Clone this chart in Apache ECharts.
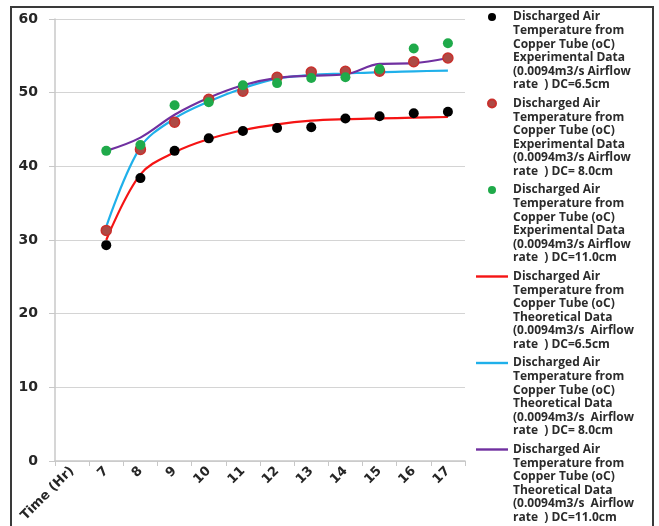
<!DOCTYPE html>
<html>
<head>
<meta charset="utf-8">
<script src="https://cdn.jsdelivr.net/npm/echarts@6/dist/echarts.min.js"></script>
<style>
  html, body { margin: 0; padding: 0; background: #fff; }
  #main { width: 659px; height: 526px; }
</style>
</head>
<body>
<div id="main"></div>
<script>
// x categories (first slot is the axis caption, no data there)
const hours = ['Time (Hr)', '7', '8', '9', '10', '11', '12', '13', '14', '15', '16', '17'];
const yTicks = [0, 10, 20, 30, 40, 50, 60];

// experimental points
const expDC65 = [null, 29.3, 38.4, 42.1, 43.8, 44.8, 45.2, 45.3, 46.5, 46.8, 47.2, 47.4];
const expDC80 = [null, 31.3, 42.3, 46.0, 49.1, 50.2, 52.1, 52.8, 52.9, 52.9, 54.2, 54.7];
const expDC110 = [null, 42.1, 42.9, 48.3, 48.7, 51.0, 51.3, 52.0, 52.1, 53.2, 56.0, 56.7];

// theoretical curves
const thDC65 = [null, 30.0, 38.9, 41.9, 43.7, 44.9, 45.7, 46.2, 46.4, 46.5, 46.6, 46.7];
const thDC80 = [null, 31.8, 42.6, 46.5, 48.8, 50.6, 51.9, 52.4, 52.6, 52.8, 52.9, 53.0];
const thDC110 = [null, 42.1, 43.9, 47.0, 49.3, 51.0, 52.0, 52.3, 52.5, 53.9, 54.0, 54.7];

const namePre = 'Discharged Air\nTemperature from\nCopper Tube (oC)\n';
const names = [
  namePre + 'Experimental Data\n(0.0094m3/s Airflow\nrate  ) DC=6.5cm',
  namePre + 'Experimental Data\n(0.0094m3/s Airflow\nrate  ) DC= 8.0cm',
  namePre + 'Experimental Data\n(0.0094m3/s Airflow\nrate  ) DC=11.0cm',
  namePre + 'Theoretical Data\n(0.0094m3/s  Airflow\nrate  ) DC=6.5cm',
  namePre + 'Theoretical Data\n(0.0094m3/s  Airflow\nrate  ) DC= 8.0cm',
  namePre + 'Theoretical Data\n(0.0094m3/s  Airflow\nrate  ) DC=11.0cm'
];

const chart = echarts.init(document.getElementById('main'));

function dots(name, data, color, border) {
  return {
    name: name,
    type: 'scatter',
    data: data,
    symbolSize: 10,
    z: 4,
    itemStyle: { color: color, borderColor: border || color, borderWidth: border ? 1.5 : 0, opacity: 1 }
  };
}

function curve(name, data, color) {
  return {
    name: name,
    type: 'line',
    data: data,
    smooth: 0.35,
    symbol: 'none',
    z: 3,
    itemStyle: { color: color },
    lineStyle: { color: color, width: 2.2 }
  };
}

// legend text: 6 lines, pushed down so the first line sits beside the icon
const lh = 13.6;
const lineIcon = 'path://M0 0H32V2.4H0Z';

chart.setOption({
  animation: false,
  backgroundColor: '#fff',
  graphic: [{
    type: 'rect',
    shape: { x: 11, y: 7, width: 642, height: 540 },
    style: { fill: 'none', stroke: '#3a3a3a', lineWidth: 2 },
    silent: true
  }],
  grid: { left: 55, right: 194, top: 19, bottom: 65 },
  legend: {
    orient: 'vertical',
    left: 476,
    top: 17 + 4 - 4 - 11 * lh / 2,
    height: 1000,
    padding: 0,
    itemWidth: 32,
    itemHeight: 8,
    itemGap: 86.5 - 11 * lh,
    formatter: function (name) { return '\n\n\n\n\n' + name; },
    textStyle: {
      fontFamily: 'Open Sans',
      fontWeight: 'bold',
      fontSize: 12,
      lineHeight: lh,
      color: '#2b2b2b'
    },
    data: [
      { name: names[0], icon: 'circle' },
      { name: names[1], icon: 'circle' },
      { name: names[2], icon: 'circle' },
      { name: names[3], icon: lineIcon },
      { name: names[4], icon: lineIcon },
      { name: names[5], icon: lineIcon }
    ]
  },
  xAxis: {
    type: 'category',
    data: hours,
    boundaryGap: true,
    axisLine: { lineStyle: { color: '#c8c8c8', width: 1.5 } },
    axisTick: { show: true, length: 5, lineStyle: { color: '#c8c8c8' } },
    axisLabel: {
      interval: 0,
      rotate: 45,
      margin: 8,
      fontFamily: 'DejaVu Sans',
      fontWeight: 'bold',
      fontSize: 13,
      color: '#262626'
    },
    splitLine: { show: false }
  },
  yAxis: {
    type: 'value',
    min: yTicks[0],
    max: yTicks[yTicks.length - 1],
    interval: 10,
    axisLine: { show: true, lineStyle: { color: '#c8c8c8', width: 1.5 } },
    axisTick: { show: true, length: 6, lineStyle: { color: '#c8c8c8' } },
    axisLabel: {
      margin: 17,
      fontFamily: 'DejaVu Sans',
      fontWeight: 'bold',
      fontSize: 14,
      color: '#262626'
    },
    splitLine: { lineStyle: { color: '#d4d4d4', width: 1.2 } }
  },
  series: [
    dots(names[0], expDC65, '#000000'),
    dots(names[1], expDC80, '#ad4a45', '#c9302c'),
    dots(names[2], expDC110, '#1faa4a'),
    curve(names[3], thDC65, '#f51414'),
    curve(names[4], thDC80, '#1fb0ea'),
    curve(names[5], thDC110, '#7030a0')
  ]
});
</script>
</body>
</html>
